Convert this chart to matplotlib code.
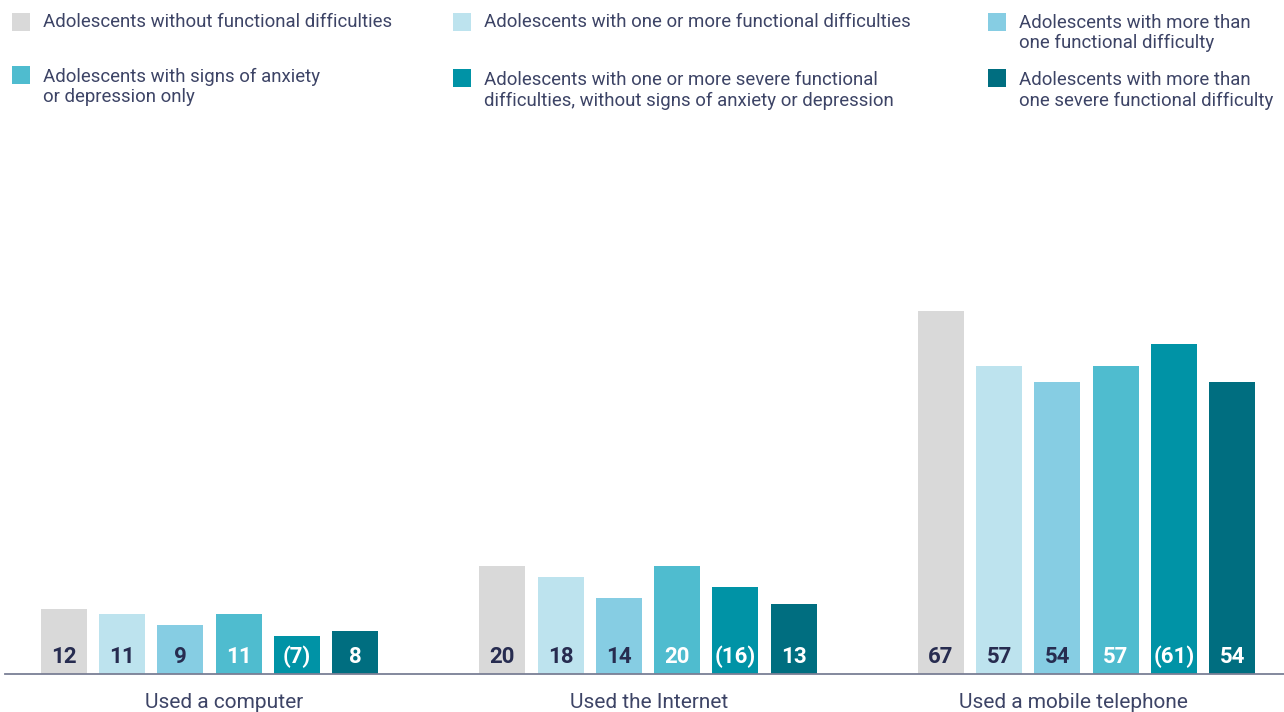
import numpy as np
import matplotlib.pyplot as plt
from matplotlib.patches import Rectangle

plt.rcParams['font.family'] = ['Roboto', 'DejaVu Sans']

# Data
categories = ["Used a computer", "Used the Internet", "Used a mobile telephone"]
groups = ["Adolescents without functional difficulties",
          "Adolescents with one or more functional difficulties",
          "Adolescents with more than\none functional difficulty",
          "Adolescents with signs of anxiety\nor depression only",
          "Adolescents with one or more severe functional\ndifficulties, without signs of anxiety or depression",
          "Adolescents with more than\none severe functional difficulty"]
values = np.array([[12, 20, 67],
                   [11, 18, 57],
                   [9, 14, 54],
                   [11, 20, 57],
                   [7, 16, 61],
                   [8, 13, 54]])
# values shown in brackets
bracketed = [False, False, False, False, True, False]

colors = ["#d9d9d9", "#bde3ee", "#86cde3", "#4fbccf", "#0093a6", "#006e80"]
label_colors = ["#272c50", "#272c50", "#272c50", "white", "white", "white"]
text_color = "#3d4466"

W, H = 1284, 712
fig = plt.figure(figsize=(W / 100, H / 100), dpi=100)
ax = fig.add_axes([5 / W, 38 / H, 1 - 5 / W, 540 / H])

group_px = 438.5  # pixels between group centres
pitch = 58.3 / group_px
width = 46 / group_px
x = np.arange(len(categories))
for i in range(len(groups)):
    xs = x + (i - 2.5) * pitch
    ax.bar(xs, values[i], width=width, color=colors[i], zorder=2)
    for xv, v in zip(xs, values[i]):
        txt = f"({v})" if bracketed[i] else f"{v}"
        ax.text(xv, 2.0, txt, ha="center", va="baseline", fontsize=16,
                fontweight="bold", color=label_colors[i], zorder=3)

ax.set_xlim((5 - 209.5) / group_px, (1284 - 209.5) / group_px)
ax.set_ylim(0, 99.8)
for s in ["top", "right", "left"]:
    ax.spines[s].set_visible(False)
ax.spines["bottom"].set_color("#7a7f95")
ax.spines["bottom"].set_linewidth(1.3)
ax.set_yticks([])
# category labels sit slightly off the group centres
ax.set_xticks(x + np.array([14.5, 1, -13]) / group_px)
ax.set_xticklabels(categories, fontsize=15, color=text_color)
ax.tick_params(axis="x", length=0, pad=14)

# Legend laid out in three columns: square top-left and first baseline (px)
legend_pos = [(12, 13, 27), (453, 13, 27), (988, 13, 28),
              (12, 66, 82), (453, 69, 85), (988, 69, 85)]
for k, (px, py, base) in enumerate(legend_pos):
    fig.add_artist(Rectangle((px / W, 1 - (py + 18) / H), 18 / W, 18 / H,
                             transform=fig.transFigure, color=colors[k], lw=0))
    for j, line in enumerate(groups[k].split("\n")):
        fig.text((px + 31) / W, 1 - (base + 20.5 * j) / H, line, ha="left",
                 va="baseline", fontsize=13.4, color=text_color)

fig.savefig("out.png", dpi=100)
